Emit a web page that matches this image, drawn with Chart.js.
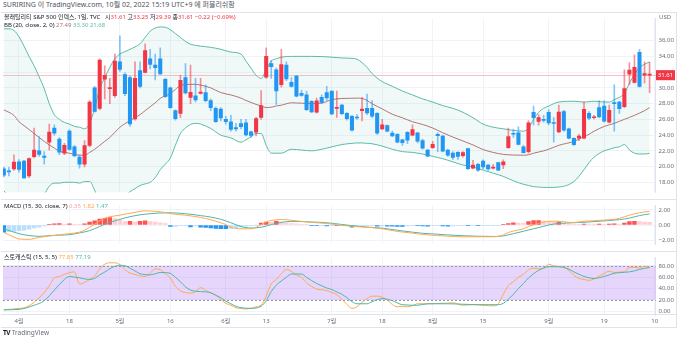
<!DOCTYPE html>
<html lang="ko">
<head>
<meta charset="UTF-8" />
<title>볼래틸리티 S&P 500 인덱스, 1일</title>
<script src="https://cdn.jsdelivr.net/npm/chart.js@4.4.1/dist/chart.umd.min.js"></script>
<style>
  body { margin: 0; width: 680px; height: 341px; overflow: hidden; position: relative; background: #fff;
         font-family: 'Noto Sans', 'Noto Sans CJK KR', sans-serif; color: #131722; }
  canvas { position: absolute; left: 3px; }
  .t { position: absolute; white-space: nowrap; font-size: 6px; line-height: 8px; }
  .ln { position: absolute; background: #e0e3eb; }
  .r { color: #f23645; }
</style>
</head>
<body>
<div class="t" style="left:3px;top:1px;font-size:7px;color:#50535e">SURIRING 이 TradingView.com, 10월 02, 2022 15:19 UTC+9 에 퍼블리쉬함</div>

<canvas id="main" width="673" height="187" style="top:12px"></canvas>
<canvas id="macd" width="673" height="52" style="top:199px"></canvas>
<canvas id="stoch" width="673" height="77" style="top:251px"></canvas>

<!-- pane frame -->
<div class="ln" style="left:1px;top:12px;width:676px;height:1px"></div>
<div class="ln" style="left:1px;top:327px;width:676px;height:1px"></div>
<div class="ln" style="left:676px;top:12px;width:1px;height:316px"></div>
<div class="ln" style="left:1px;top:199px;width:676px;height:1px"></div>
<div class="ln" style="left:1px;top:251px;width:676px;height:1px"></div>
<div class="ln" style="left:1px;top:314px;width:676px;height:1px"></div>

<!-- legends -->
<div class="t" id="lg1" style="left:4px;top:13px"></div>
<div class="t" id="lg2" style="left:4px;top:21px"></div>
<div class="t" id="lgMacd" style="left:4px;top:202px"></div>
<div class="t" id="lgStoch" style="left:4px;top:253px"></div>
<div class="t" style="left:659px;top:13px;color:#6a6d78">USD</div>
<div class="t" style="left:3px;top:329px;font-size:6.5px;color:#6a6d78"><b style="color:#131722;letter-spacing:-0.5px">TV</b> TradingView</div>

<script>
  // daily candles, 2022-03-29 .. 2022-09-30 (k = 0 .. 128)
  const opens = [
    19.7, 19.45, 19.7, 20.6, 20.7, 18.8, 21.25, 22.0, 21.35, 23.1,
    24.9, 23.5, 21.7, 24.5, 22.5, 21.2, 20.3, 22.7, 30.0, 27.4,
    31.1, 29.9, 29.0, 33.3, 31.7, 31.3, 26.05, 32.2, 31.95, 33.7,
    32.9, 33.7, 31.1, 30.0, 27.1, 26.75, 31.3, 28.8, 29.0, 29.3,
    29.4, 28.4, 27.4, 27.3, 26.0, 25.7, 24.95, 25.45, 25.55, 24.4,
    24.36, 26.24, 31.36, 33.1, 32.3, 30.4, 32.9, 30.7, 31.5, 29.3,
    29.1, 28.3, 26.9, 28.8, 29.4, 29.6, 27.4, 27.8, 26.75, 26.4,
    26.3, 27.1, 27.4, 27.4, 26.75, 24.8, 25.2, 24.25, 24.1, 23.4,
    24.35, 24.0, 24.3, 23.3, 22.1, 22.4, 24.1, 23.88, 22.1, 21.7,
    21.8, 21.4, 22.3, 19.8, 20.3, 20.7, 20.2, 19.8, 20.5, 20.2,
    22.4, 24.2, 24.3, 22.5, 21.9, 26.9, 25.75, 26.0, 26.9, 25.6,
    24.4, 27.0, 24.8, 23.6, 23.6, 23.6, 26.75, 26.2, 27.5, 27.7,
    25.65, 28.1, 28.2, 27.6, 31.75, 30.7, 34.5, 31.6, 31.61
  ];
  const highs = [
    19.95, 19.9, 21.5, 20.9, 20.8, 21.1, 24.9, 23.8, 21.9, 25.4,
    25.3, 23.7, 22.95, 24.7, 22.7, 21.5, 23.3, 28.4, 30.2, 33.7,
    32.8, 31.2, 34.3, 36.6, 31.9, 31.5, 33.3, 33.3, 35.6, 34.9,
    34.3, 35.1, 31.2, 30.1, 27.2, 31.6, 33.1, 32.9, 31.2, 31.2,
    30.4, 28.6, 27.6, 27.5, 26.4, 26.5, 25.5, 26.0, 26.0, 24.5,
    26.25, 29.67, 35.1, 33.5, 32.5, 34.9, 33.3, 31.3, 31.6, 29.7,
    29.6, 28.4, 28.7, 29.1, 30.2, 29.6, 29.6, 27.9, 26.85, 26.5,
    26.6, 28.8, 29.2, 28.4, 26.85, 26.0, 25.3, 24.5, 24.2, 23.5,
    24.45, 25.3, 24.35, 23.5, 22.2, 23.2, 24.3, 24.0, 22.2, 21.9,
    21.9, 21.9, 22.3, 20.8, 20.4, 20.85, 20.3, 20.3, 20.55, 20.85,
    24.9, 24.75, 25.05, 22.7, 25.85, 27.7, 26.6, 26.5, 27.2, 26.25,
    27.8, 27.15, 24.9, 23.7, 24.1, 28.2, 27.0, 26.5, 28.4, 28.4,
    27.8, 30.4, 28.3, 32.3, 33.2, 34.2, 34.9, 33.3, 33.25
  ];
  const lows = [
    18.7, 18.8, 19.5, 19.3, 18.5, 18.6, 21.1, 21.3, 20.3, 22.1,
    24.0, 21.5, 21.5, 22.1, 21.3, 19.8, 19.95, 22.5, 26.9, 27.2,
    28.6, 28.0, 28.8, 32.1, 29.0, 25.1, 25.9, 30.0, 31.9, 32.4,
    31.0, 31.7, 28.8, 27.4, 25.9, 26.2, 29.2, 28.0, 28.2, 29.2,
    28.2, 27.1, 25.6, 25.8, 25.4, 24.5, 24.5, 24.8, 23.9, 23.7,
    23.9, 26.0, 31.2, 31.2, 27.9, 30.1, 30.9, 30.1, 28.85, 28.9,
    27.1, 26.85, 26.8, 28.0, 28.4, 26.6, 26.25, 26.6, 25.9, 24.5,
    26.0, 25.8, 26.6, 26.2, 24.1, 24.7, 24.4, 23.8, 23.0, 22.7,
    22.9, 23.9, 23.0, 22.2, 21.25, 22.3, 21.9, 21.85, 21.3, 20.9,
    20.9, 21.2, 19.6, 19.7, 19.4, 19.7, 19.5, 19.7, 19.5, 19.75,
    22.3, 23.7, 22.75, 21.7, 21.7, 25.3, 25.25, 25.65, 25.3, 23.1,
    24.3, 24.5, 23.5, 22.7, 23.3, 23.5, 25.95, 26.05, 26.2, 25.65,
    25.55, 24.5, 26.75, 27.5, 30.4, 30.6, 30.1, 30.6, 29.39
  ];
  const closes = [
    18.9, 19.33, 20.56, 19.63, 18.57, 21.03, 22.10, 21.55, 21.16, 24.37,
    24.26, 21.82, 22.70, 22.17, 21.37, 20.32, 22.68, 28.21, 27.02, 33.52,
    31.60, 29.99, 33.40, 32.34, 29.25, 25.42, 31.20, 30.19, 34.75, 32.99,
    32.56, 31.77, 28.87, 27.5, 26.10, 30.96, 29.35, 29.43, 28.48, 29.45,
    28.37, 27.50, 25.72, 26.19, 25.69, 24.72, 24.79, 25.07, 24.02, 23.96,
    26.09, 27.75, 34.02, 32.69, 29.62, 32.95, 31.13, 30.19, 28.95, 29.05,
    27.23, 26.95, 28.36, 28.16, 28.71, 26.70, 27.54, 26.73, 26.08, 24.64,
    26.17, 27.29, 26.82, 26.40, 24.23, 25.30, 24.50, 23.88, 23.11, 23.03,
    23.36, 24.69, 23.24, 22.33, 21.33, 22.84, 23.93, 21.95, 21.44, 21.15,
    21.29, 21.77, 19.74, 20.20, 19.53, 19.95, 19.69, 19.90, 19.56, 20.60,
    23.80, 24.11, 22.82, 21.78, 25.56, 26.21, 26.21, 25.87, 25.56, 25.47,
    26.91, 24.64, 23.61, 22.79, 23.87, 27.27, 26.16, 26.27, 26.30, 25.76,
    27.16, 27.99, 27.35, 29.92, 32.26, 32.60, 30.18, 31.83, 31.61
  ];

  // Bollinger bands (20, close, 2) at bar positions k
  const bbAt = [
    0, 1, 2, 3, 4, 5, 6, 7, 8, 9, 10, 11, 12, 13, 14, 15, 16, 17, 18, 19,
    20, 21, 22, 23, 24, 25, 26, 27, 28, 29, 30, 31, 32, 33, 34, 35, 36, 37, 38, 39,
    41, 43, 45, 47, 48, 49, 50, 51, 52, 53, 54, 55, 57, 59, 61, 63, 65, 67, 69, 70,
    71, 72, 73, 75, 77, 79, 81, 83, 85, 87, 89, 91, 93, 95, 97, 99, 101, 103, 104, 105,
    106, 107, 108, 110, 113, 115, 116, 117, 119, 120, 121, 122, 123, 124, 125, 126, 127, 128
  ];
  const bbUpper = [
    37.5, 37.5, 37.3, 36.5, 35.3, 34.0, 32.8, 31.4, 29.9, 28.0, 26.6, 26.0, 25.6, 25.4, 25.1, 25.0, 24.8, 25.5, 27.4, 29.9,
    31.3, 32.6, 33.7, 34.3, 34.6, 34.9, 35.2, 35.6, 36.4, 37.2, 37.6, 37.74, 37.7, 37.4, 36.9, 36.4, 35.9, 35.55, 35.4, 35.3,
    35.15, 34.9, 34.55, 34.3, 33.4, 32.5, 31.6, 31.2, 32.3, 33.4, 33.7, 33.9, 34.0, 34.0, 34.0, 33.98, 33.9, 33.8, 33.75, 33.65,
    33.2, 32.6, 31.8, 30.8, 30.2, 29.6, 29.1, 28.6, 28.2, 27.75, 27.4, 26.9, 26.2, 25.4, 25.0, 24.8, 24.6, 24.5, 24.9, 26.0,
    26.9, 27.4, 27.7, 28.2, 28.3, 28.2, 28.25, 28.3, 28.2, 28.2, 28.5, 28.8, 29.3, 30.6, 31.7, 32.6, 33.0, 33.3
  ];
  const bbBasis = [
    27.2, 26.9, 26.5, 25.7, 25.2, 24.7, 24.2, 23.7, 23.2, 22.75, 22.35, 21.95, 21.8, 21.7, 21.55, 21.45, 21.45, 21.8, 22.2, 22.7,
    23.2, 23.7, 24.35, 25.0, 25.45, 25.85, 26.2, 26.6, 27.1, 27.6, 28.1, 28.67, 28.98, 29.25, 29.8, 30.3, 30.4, 30.45, 30.45, 30.35,
    30.0, 29.4, 29.1, 28.7, 28.4, 28.15, 27.9, 27.7, 27.5, 27.55, 27.7, 27.8, 28.1, 28.05, 28.0, 28.07, 28.5, 28.65, 28.68, 28.7,
    28.65, 28.4, 27.98, 27.33, 26.65, 26.2, 25.7, 25.35, 24.9, 24.3, 23.75, 23.25, 22.75, 22.16, 21.8, 21.55, 21.47, 21.44, 21.5, 21.7,
    21.85, 22.0, 22.2, 22.7, 23.2, 23.8, 24.1, 24.5, 25.1, 25.3, 25.5, 25.75, 26.0, 26.25, 26.5, 26.8, 27.1, 27.49
  ];
  const bbLower = [
    16.9, 16.3, 15.7, 14.9, 15.1, 15.4, 15.6, 16.0, 16.5, 17.5, 17.9, 17.9, 18.0, 18.0, 18.0, 17.9, 18.1, 18.1, 17.0, 15.5,
    15.1, 14.8, 15.0, 15.7, 16.3, 16.8, 17.2, 17.6, 17.8, 18.0, 18.6, 19.6, 20.3, 21.1, 22.7, 24.2, 24.9, 25.35, 25.5, 25.4,
    24.85, 24.0, 23.65, 23.1, 23.4, 23.8, 24.2, 24.2, 22.7, 21.7, 21.7, 21.7, 22.2, 22.1, 22.0, 22.2, 22.5, 22.8, 22.95, 23.0,
    23.0, 22.95, 22.9, 22.6, 22.2, 21.9, 21.8, 21.6, 21.3, 21.0, 20.6, 20.2, 19.95, 19.55, 19.16, 18.75, 18.2, 17.75, 17.6, 17.45,
    17.4, 17.35, 17.35, 17.4, 18.1, 19.6, 20.5, 21.2, 22.0, 22.2, 22.4, 22.5, 22.8, 22.1, 21.7, 21.6, 21.6, 21.68
  ];

  // MACD (15, 30, close, 7)
  const macdAt = [
    0, 2, 3, 5, 7, 9, 11, 13, 15, 16, 17, 18, 19, 20, 21, 23, 24, 25, 27, 28,
    29, 31, 32, 33, 36, 39, 41, 43, 44, 45, 47, 49, 50, 51, 52, 53, 55, 57, 59, 61,
    64, 67, 70, 73, 75, 78, 81, 83, 86, 88, 91, 94, 97, 98, 99, 100, 101, 103, 104, 106,
    107, 108, 110, 112, 113, 115, 117, 119, 121, 122, 124, 126, 128
  ];
  const macdLine = [
    -1.0, -1.6, -1.85, -1.9, -1.65, -1.45, -1.3, -1.15, -0.95, -0.7, -0.3, 0.1, 0.55, 0.9, 1.1, 1.3, 1.45, 1.55, 1.8, 1.88,
    1.85, 1.75, 1.65, 1.5, 1.3, 1.0, 0.7, 0.3, 0.05, -0.3, -0.5, -0.5, -0.3, 0.05, 0.4, 0.6, 0.73, 0.62, 0.48, 0.35,
    0.2, -0.05, -0.22, -0.35, -0.5, -0.85, -1.08, -1.25, -1.4, -1.48, -1.57, -1.56, -1.56, -1.5, -1.3, -1.0, -0.8, -0.5, -0.2, 0.2,
    0.4, 0.5, 0.5, 0.35, 0.33, 0.5, 0.57, 0.65, 0.75, 0.88, 1.3, 1.62, 1.82
  ];
  const signalAt = [
    0, 2, 3, 5, 7, 9, 11, 13, 15, 17, 19, 20, 21, 23, 25, 27, 29, 31, 33, 36,
    39, 41, 43, 45, 47, 49, 51, 53, 55, 57, 59, 61, 64, 67, 70, 73, 75, 78, 81, 83,
    86, 88, 91, 94, 97, 99, 100, 101, 103, 105, 106, 108, 110, 113, 116, 119, 121, 122, 124, 126,
    128
  ];
  const signalLine = [
    -0.5, -0.95, -1.15, -1.4, -1.5, -1.42, -1.35, -1.28, -1.05, -0.75, -0.2, 0.1, 0.35, 0.75, 1.1, 1.35, 1.5, 1.6, 1.62, 1.5,
    1.25, 1.05, 0.75, 0.3, -0.2, -0.4, -0.3, 0.05, 0.35, 0.48, 0.45, 0.4, 0.3, 0.07, -0.16, -0.33, -0.42, -0.7, -0.95, -1.1,
    -1.22, -1.32, -1.42, -1.49, -1.52, -1.45, -1.3, -1.15, -0.83, -0.5, -0.35, 0.0, 0.2, 0.3, 0.4, 0.55, 0.65, 0.7, 0.92, 1.25,
    1.47
  ];
  const macdHist = [
    -0.95, -0.9, -0.85, -0.75, -0.7, -0.55, -0.4, -0.3, -0.12, 0.08,
    0.15, 0.18, 0.1, 0.16, 0.08, 0.04, 0.15, 0.4, 0.55, 0.8,
    0.9, 1.0, 0.85, 0.7, 0.45, 0.5, 0.4, 0.5, 0.55, 0.45,
    0.4, 0.3, 0.2, -0.2, -0.18, -0.1, -0.05, -0.25, -0.1, -0.3,
    -0.33, -0.4, -0.45, -0.48, -0.5, -0.45, -0.35, -0.25, -0.15, -0.08,
    -0.02, 0.25, 0.4, 0.35, 0.5, 0.4, 0.3, 0.2, 0.15, 0.1,
    0.05, -0.05, -0.1, -0.08, -0.12, -0.06, -0.1, -0.05, -0.1, -0.3,
    -0.2, -0.1, -0.05, -0.04, -0.15, -0.12, -0.15, -0.17, -0.18, -0.2,
    -0.12, -0.05, -0.08, -0.12, -0.15, -0.08, -0.05, -0.12, -0.14, -0.13,
    -0.1, -0.08, -0.1, -0.09, -0.1, -0.08, -0.06, -0.05, -0.04, 0.06,
    0.2, 0.3, 0.25, 0.18, 0.45, 0.58, 0.6, 0.52, 0.45, 0.35,
    0.4, 0.25, 0.12, 0.05, 0.04, 0.12, 0.12, 0.11, 0.13, 0.1,
    0.12, 0.15, 0.1, 0.25, 0.45, 0.5, 0.45, 0.4, 0.35
  ];

  // Stochastic (15, 5, 5)
  const stochKAt = [
    0, 2, 3, 4, 6, 7, 8, 9, 10, 11, 12, 13, 14, 15, 16, 17, 18, 19, 20, 21,
    22, 23, 24, 25, 26, 27, 28, 29, 30, 31, 32, 33, 34, 35, 36, 37, 38, 39, 40, 41,
    42, 43, 44, 45, 46, 47, 48, 49, 50, 51, 52, 53, 54, 55, 56, 57, 58, 59, 60, 61,
    62, 63, 64, 65, 66, 67, 68, 69, 70, 71, 72, 73, 74, 75, 76, 77, 78, 79, 80, 81,
    82, 84, 86, 88, 89, 91, 93, 95, 97, 98, 99, 100, 101, 102, 103, 104, 105, 106, 107, 108,
    109, 110, 111, 112, 113, 114, 115, 116, 117, 118, 119, 120, 121, 122, 123, 124, 125, 126, 127, 128
  ];
  const stochK = [
    2.7, 4.3, 5.3, 6, 16, 24, 33, 45, 58.7, 61.3, 65, 68, 69.3, 48, 50.7, 56, 62, 74.7, 82.7, 85.3,
    85.3, 82, 73, 67, 65, 62, 61.3, 66.7, 74.7, 73, 66, 58.7, 44, 36, 33, 32, 34.7, 41.6, 37, 32,
    29, 21, 14, 10.7, 6.4, 5, 4.3, 5.3, 8, 11, 26.7, 48, 56, 66, 73.6, 70, 64, 59.7, 50, 44,
    39, 38, 36.5, 33, 29.3, 21.3, 12, 5.3, 8, 16, 22, 26.7, 26.7, 25, 20, 12, 8, 9, 8, 10,
    13.3, 13.3, 14, 14.5, 15, 10.7, 11.7, 10.7, 9.6, 13.3, 30, 45.3, 52, 60, 65, 73, 75.7, 74.7, 75.7, 82.7,
    80, 78.5, 77.3, 72, 63, 58, 56, 54.4, 57, 62, 66.7, 70.4, 68.3, 69, 69.3, 77.3, 77.3, 76, 79, 77.85
  ];
  const stochDAt = [
    0, 3, 6, 8, 10, 11, 12, 13, 14, 15, 16, 17, 18, 19, 20, 21, 22, 23, 24, 25,
    26, 27, 28, 29, 30, 31, 32, 33, 34, 35, 36, 37, 38, 39, 41, 42, 43, 44, 45, 46,
    47, 49, 51, 52, 53, 54, 55, 56, 57, 59, 60, 61, 62, 63, 64, 65, 66, 67, 68, 69,
    70, 72, 73, 75, 77, 79, 82, 84, 88, 91, 94, 96, 98, 99, 100, 101, 102, 103, 104, 105,
    106, 107, 108, 110, 111, 112, 113, 114, 115, 116, 117, 118, 119, 120, 121, 122, 124, 125, 126, 127,
    128
  ];
  const stochD = [
    2.7, 3.5, 10.7, 18.7, 37.3, 47, 56, 61.3, 60, 59, 57, 56, 58, 64, 69, 74.7, 79, 81, 80, 76,
    71, 66, 64.5, 64, 66, 68.3, 68, 66.7, 60, 52, 43, 37.3, 35.5, 34.7, 33, 28, 24, 18, 13.3, 9,
    6.4, 5.3, 9, 18.7, 34.7, 46, 53.3, 60, 65.6, 65.6, 59.7, 54, 49, 45, 41, 38.4, 34, 30, 24, 17,
    13.3, 13.3, 17, 22.4, 18.7, 11.7, 10.7, 13.3, 13.3, 12.5, 11.7, 11.7, 11.7, 14, 21.3, 30, 40, 49, 58.7, 66,
    72, 76, 78.4, 78.4, 77.3, 74, 69.3, 65, 61.3, 59, 57.6, 59, 61.3, 64, 66.7, 68, 69.3, 71, 73.6, 75.5,
    77.19
  ];
  const stochLevels = [20, 80];

  // axes
  const priceTicks = [18, 20, 22, 24, 26, 28, 30, 32, 34, 36];
  const macdTicks = [-2, 0, 2];
  const stochTicks = [0, 20, 40, 60, 80];
  const timeTickAt = [3, 13, 23, 33, 44, 52, 65, 75, 85, 95, 108, 119, 129];
  const timeTickLabels = ['4월', '18', '5월', '16', '6월', '13', '7월', '18', '8월', '15', '9월', '19', '10'];

  const UP = '#f23645', DOWN = '#2196f3';
  const BAND = '#5cbaa6', BASIS = '#b07572';
  const ORANGE = '#ffa94d', TEAL = '#4db6ac';
  const GRID = '#f0f3fa', LABEL = '#6a6d78';

  Chart.defaults.font.family = "'Noto Sans', 'Noto Sans CJK KR', sans-serif";
  Chart.defaults.font.size = 6;

  const pts = (at, vals) => at.map((x, j) => ({ x: x, y: vals[j] }));
  const fmt2 = v => (v < 0 ? '−' : '') + Math.abs(v).toFixed(2);

  function xAxis(showLabels) {
    return {
      type: 'linear', min: -0.17, max: 129.17, offset: false,
      afterBuildTicks: s => { s.ticks = timeTickAt.map(v => ({ value: v })); },
      afterFit: s => { s.height = showLabels ? 13 : 0; },
      grid: { color: GRID, drawTicks: false, offset: false },
      border: { display: false },
      ticks: { display: showLabels, autoSkip: false, maxRotation: 0, padding: 3, color: LABEL,
               callback: (v, i) => timeTickLabels[i] }
    };
  }

  function yAxis(min, max, ticks) {
    return {
      position: 'right', min: min, max: max,
      afterBuildTicks: s => { s.ticks = ticks.map(v => ({ value: v })); },
      afterFit: s => { s.width = 20.5; },
      grid: { color: GRID, drawTicks: false },
      border: { color: '#e0e3eb' },
      ticks: { autoSkip: false, padding: 3, color: LABEL, callback: v => fmt2(v) }
    };
  }

  const base = {
    responsive: false, animation: false, events: [],
    layout: { padding: 0 },
    plugins: { legend: { display: false }, tooltip: { enabled: false } }
  };

  const lastClose = closes[closes.length - 1];

  // faint last-price line and the price tag on the axis
  const priceMarker = {
    id: 'priceMarker',
    beforeDatasetsDraw(chart) {
      const y = chart.scales.y.getPixelForValue(lastClose), a = chart.chartArea, ctx = chart.ctx;
      ctx.save();
      ctx.strokeStyle = 'rgba(242,54,69,0.3)';
      ctx.lineWidth = 1;
      ctx.beginPath(); ctx.moveTo(a.left, Math.round(y) + 0.5); ctx.lineTo(a.right, Math.round(y) + 0.5); ctx.stroke();
      ctx.restore();
    },
    afterDraw(chart) {
      const y = chart.scales.y.getPixelForValue(lastClose), a = chart.chartArea, ctx = chart.ctx;
      ctx.save();
      ctx.fillStyle = UP;
      ctx.fillRect(a.right + 0.5, y - 5, 19, 10);
      ctx.fillStyle = '#fff';
      ctx.font = "6px 'Noto Sans', sans-serif";
      ctx.textAlign = 'center'; ctx.textBaseline = 'middle';
      ctx.fillText(lastClose.toFixed(2), a.right + 10, y + 0.5);
      ctx.restore();
    }
  };

  const stochBand = {
    id: 'stochBand',
    beforeDatasetsDraw(chart) {
      const s = chart.scales.y, a = chart.chartArea, ctx = chart.ctx;
      const y1 = s.getPixelForValue(stochLevels[1]), y0 = s.getPixelForValue(stochLevels[0]);
      ctx.save();
      ctx.fillStyle = 'rgba(160, 90, 245, 0.25)';
      ctx.fillRect(a.left, y1, a.right - a.left, y0 - y1);
      ctx.strokeStyle = '#9598a1';
      ctx.setLineDash([2, 2]);
      ctx.lineWidth = 1;
      [y1, y0].forEach(y => {
        ctx.beginPath(); ctx.moveTo(a.left, Math.round(y) + 0.5); ctx.lineTo(a.right, Math.round(y) + 0.5); ctx.stroke();
      });
      ctx.restore();
    }
  };

  const upBar = k => closes[k] >= opens[k];

  new Chart(document.getElementById('main'), {
    type: 'bar',
    data: {
      datasets: [
        { type: 'line', data: pts(bbAt, bbUpper), borderColor: BAND, borderWidth: 1, pointRadius: 0,
          cubicInterpolationMode: 'monotone', order: 10 },
        { type: 'line', data: pts(bbAt, bbLower), borderColor: BAND, borderWidth: 1, pointRadius: 0,
          cubicInterpolationMode: 'monotone', fill: '-1', backgroundColor: 'rgba(77,182,172,0.08)', order: 10 },
        { type: 'line', data: pts(bbAt, bbBasis), borderColor: BASIS, borderWidth: 1, pointRadius: 0,
          cubicInterpolationMode: 'monotone', order: 9 },
        { data: highs.map((h, k) => ({ x: k, y: [lows[k], h] })),
          backgroundColor: highs.map((h, k) => upBar(k) ? 'rgba(242,54,69,0.55)' : 'rgba(33,150,243,0.55)'),
          barThickness: 1, grouped: false, order: 3 },
        { data: opens.map((o, k) => ({ x: k, y: [o, closes[k]] })),
          backgroundColor: opens.map((o, k) => upBar(k) ? UP : DOWN),
          barThickness: 3.4, minBarLength: 1, grouped: false, order: 2 }
      ]
    },
    options: Object.assign({}, base, {
      scales: { x: xAxis(false), y: yAxis(16.72, 38.8, priceTicks) }
    }),
    plugins: [priceMarker]
  });

  const histColors = macdHist.map((h, k) => {
    const prev = k > 0 ? macdHist[k - 1] : h;
    if (h >= 0) return h > prev ? '#ff5252' : '#ffcdd2';
    return h > prev ? '#bbdefb' : '#2196f3';
  });

  new Chart(document.getElementById('macd'), {
    type: 'bar',
    data: {
      datasets: [
        { data: macdHist.map((h, k) => ({ x: k, y: h })), backgroundColor: histColors,
          barThickness: 3.8, grouped: false, order: 3 },
        { type: 'line', data: pts(signalAt, signalLine), borderColor: TEAL, borderWidth: 1, pointRadius: 0,
          cubicInterpolationMode: 'monotone', order: 2 },
        { type: 'line', data: pts(macdAt, macdLine), borderColor: ORANGE, borderWidth: 1, pointRadius: 0,
          cubicInterpolationMode: 'monotone', order: 1 }
      ]
    },
    options: Object.assign({}, base, {
      scales: { x: xAxis(false), y: yAxis(-2.574, 2.574, macdTicks) }
    })
  });

  new Chart(document.getElementById('stoch'), {
    type: 'line',
    data: {
      datasets: [
        { data: pts(stochDAt, stochD), borderColor: TEAL, borderWidth: 1, pointRadius: 0,
          cubicInterpolationMode: 'monotone' },
        { data: pts(stochKAt, stochK), borderColor: ORANGE, borderWidth: 1, pointRadius: 0,
          cubicInterpolationMode: 'monotone' }
      ]
    },
    options: Object.assign({}, base, {
      scales: { x: xAxis(true), y: yAxis(-6.4, 94.4, stochTicks) }
    }),
    plugins: [stochBand]
  });

  // legends
  const n = closes.length;
  const chg = closes[n - 1] - closes[n - 2];
  const last = a => a[a.length - 1];
  document.getElementById('lg1').innerHTML =
    '볼래틸리티 S&amp;P 500 인덱스, 1일, TVC&nbsp;&nbsp; 시<span class="r">' + opens[n - 1].toFixed(2) +
    '</span> 고<span class="r">' + highs[n - 1].toFixed(2) +
    '</span> 저<span class="r">' + lows[n - 1].toFixed(2) +
    '</span> 종<span class="r">' + closes[n - 1].toFixed(2) +
    '</span> <span class="r">' + fmt2(chg) + ' (' + fmt2(chg / closes[n - 2] * 100) + '%)</span>';
  document.getElementById('lg2').innerHTML =
    'BB (20, close, 2, 0) <span style="color:' + BASIS + '">' + last(bbBasis).toFixed(2) +
    '</span> <span style="color:' + BAND + '">' + last(bbUpper).toFixed(2) +
    '</span> <span style="color:' + BAND + '">' + last(bbLower).toFixed(2) + '</span>';
  document.getElementById('lgMacd').innerHTML =
    'MACD (15, 30, close, 7) <span style="color:#f7a1a9">' + last(macdHist).toFixed(2) +
    '</span> <span style="color:' + ORANGE + '">' + last(macdLine).toFixed(2) +
    '</span> <span style="color:' + TEAL + '">' + last(signalLine).toFixed(2) + '</span>';
  document.getElementById('lgStoch').innerHTML =
    '스토캐스틱 (15, 5, 5) <span style="color:' + ORANGE + '">' + last(stochK).toFixed(2) +
    '</span> <span style="color:' + TEAL + '">' + last(stochD).toFixed(2) + '</span>';
</script>
</body>
</html>
